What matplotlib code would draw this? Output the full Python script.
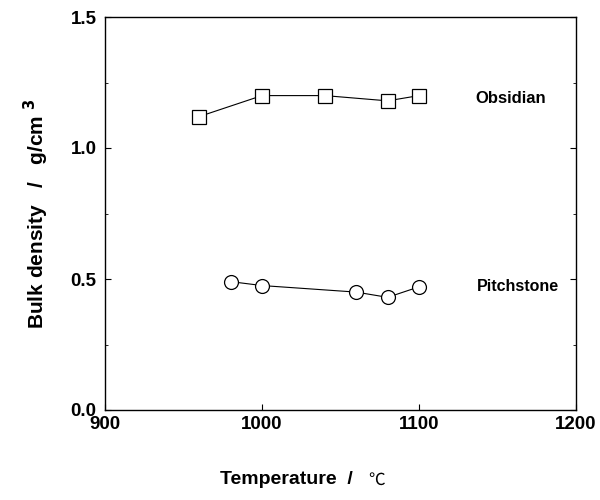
import numpy as np
import matplotlib.pyplot as plt
from matplotlib.ticker import MultipleLocator

plt.rcParams['font.family'] = ['Liberation Sans', 'DejaVu Sans']

# Obsidian (squares)
obs_temp = [960, 1000, 1040, 1080, 1100]
obs_density = [1.12, 1.20, 1.20, 1.18, 1.20]

# Pitchstone (circles)
pit_temp = [980, 1000, 1060, 1080, 1100]
pit_density = [0.49, 0.475, 0.45, 0.43, 0.47]

fig = plt.figure(figsize=(6, 5), dpi=100)
ax = fig.add_axes([0.175, 0.18, 0.785, 0.786])

ax.plot(obs_temp, obs_density, color='black', lw=0.8, marker='s', ms=10,
        mfc='white', mec='black', mew=0.9)
ax.plot(pit_temp, pit_density, color='black', lw=0.8, marker='o', ms=10,
        mfc='white', mec='black', mew=0.9)

ax.text(1136, 1.19, 'Obsidian', fontsize=12, fontweight='bold', va='center')
ax.text(1137, 0.47, 'Pitchstone', fontsize=11.5, fontweight='bold', va='center')

ax.set_xlim(900, 1200)
ax.set_ylim(0, 1.5)
ax.set_xticks([900, 1000, 1100, 1200])
ax.set_yticks([0.0, 0.5, 1.0, 1.5])
ax.yaxis.set_minor_locator(MultipleLocator(0.25))
ax.set_yticklabels(['0.0', '0.5', '1.0', '1.5'])
ax.tick_params(direction='in', length=4, width=0.8, labelsize=13.5, right=True)
ax.tick_params(which='minor', direction='in', length=2, width=0.6, right=True)
for lab in ax.get_xticklabels() + ax.get_yticklabels():
    lab.set_fontweight('bold')
ax.tick_params(axis='x', pad=4)
ax.tick_params(axis='y', pad=6)
for s in ax.spines.values():
    s.set_linewidth(1.0)

ax.set_ylabel('Bulk density   /   g/cm $^{\\mathbf{3}}$', fontsize=15,
              fontweight='bold', labelpad=14)

fig.text(0.588, 0.04, 'Temperature  /', fontsize=14, fontweight='bold',
         ha='right', va='center')
fig.text(0.614, 0.04, '\u2103', fontsize=12, ha='left', va='center',
         family=['Noto Sans CJK JP', 'DejaVu Sans'])

fig.savefig('out.png', dpi=100)
